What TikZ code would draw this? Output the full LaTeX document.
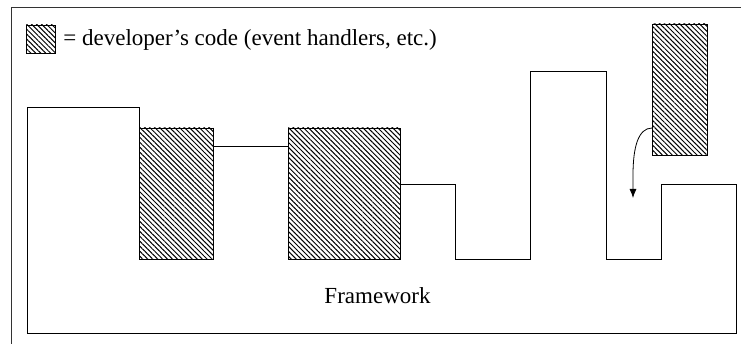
\documentclass[tikz,border=0pt]{standalone}
\usepackage{fontspec}
\setmainfont{Liberation Serif}
\usetikzlibrary{arrows.meta,patterns.meta}

\begin{document}
\begin{tikzpicture}[x=1pt,y=-1pt,>={Latex[length=9pt,width=7pt]},
  font=\fontsize{23}{27}\selectfont,line width=0.8pt,
  devcode/.style={draw,pattern={Lines[angle=-45,distance=3.5pt,line width=1pt]}}]
% page size (y runs downwards, as in the screen picture)
\clip (0,0) rectangle (741,344);
% outer frame, cut off at right and bottom
\draw[line width=1pt,black!80] (11,8) rectangle (760,370);
% legend
\path[devcode] (26,25) rectangle (55,53) coordinate (legsq);
\node[anchor=base west,inner sep=0pt] (legtxt) at (63,46)
  {= developer’s code (event handlers, etc.)};
% framework outline
\draw (27,107) -| (139,128);
\draw (213,146) -- (288,146);
\draw (400,184) -| (455,259) -| (530,71) -| (606,259) -| (661,184)
      -| (736,333) -| (27,107);
% developer's code plugged into the framework
\path[devcode] (139,128) rectangle (213,259);
\path[devcode] (288,128) rectangle (400,259);
% handler not yet plugged in
\path[devcode] (652,24) rectangle (707,155);
\coordinate (hsrc) at (652,128);
\coordinate (hdst) at (633,198);
\draw[->] (hsrc) .. controls (638,128) and (633,148) .. (633,175) -- (hdst);
% label
\node[anchor=base,inner sep=0pt] (fw) at (377.5,304) {Framework};
\end{tikzpicture}
\end{document}
